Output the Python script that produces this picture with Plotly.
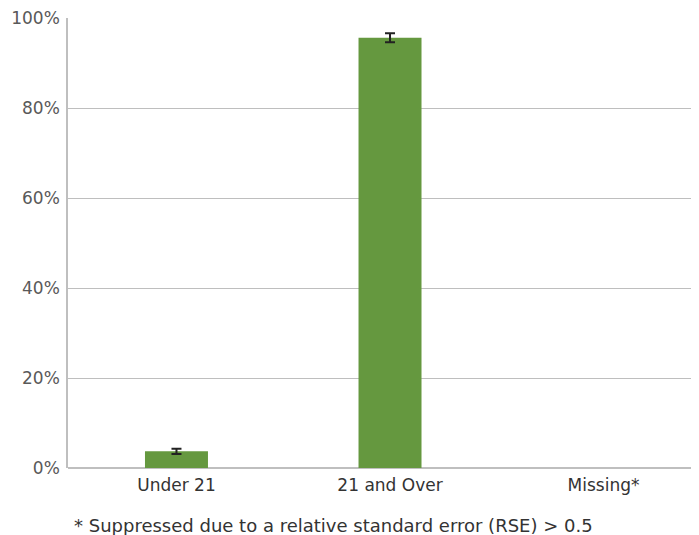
import plotly.graph_objects as go

categories = ["Under 21", "21 and Over", "Missing*"]
values = [3.7, 95.6, None]
errors = [0.6, 1.0, None]
y_ticks = [0, 20, 40, 60, 80, 100]
y_tick_labels = ["0%", "20%", "40%", "60%", "80%", "100%"]
footnote = "* Suppressed due to a relative standard error (RSE) > 0.5"

FONT = "DejaVu Sans, sans-serif"

fig = go.Figure()
fig.add_trace(go.Bar(
    x=categories,
    y=values,
    marker=dict(color="#65983F", line=dict(width=0)),
    error_y=dict(type="data", array=errors, visible=True, color="#222222",
                 thickness=2, width=5),
    width=0.295,
))

fig.update_layout(
    width=691, height=527,
    margin=dict(l=60, r=0, t=10, b=67),
    paper_bgcolor="white", plot_bgcolor="white",
    showlegend=False,
    font=dict(family=FONT, size=17, color="#595959"),
    xaxis=dict(
        type="category",
        range=[-0.508, 2.447],
        showline=False, showgrid=False, zeroline=False,
        ticks="", ticklabelstandoff=5,
        tickfont=dict(size=17, color="#333333"),
    ),
    yaxis=dict(
        range=[0, 100],
        tickvals=y_ticks, ticktext=y_tick_labels,
        showgrid=True, gridcolor="#BEBEBE", gridwidth=1,
        showline=True, linecolor="#BFBFBF", linewidth=1.5,
        zeroline=True, zerolinecolor="#BFBFBF", zerolinewidth=2,
        ticks="", ticklabelstandoff=3, ticklabeloverflow="allow",
        tickfont=dict(size=17, color="#595959"),
    ),
    annotations=[dict(
        text=footnote, xref="paper", yref="paper",
        x=0, y=0, xanchor="left", yanchor="middle",
        xshift=4, yshift=-57, showarrow=False,
        font=dict(family=FONT, size=18, color="#333333"),
    )],
)

fig.write_html("out.html")
